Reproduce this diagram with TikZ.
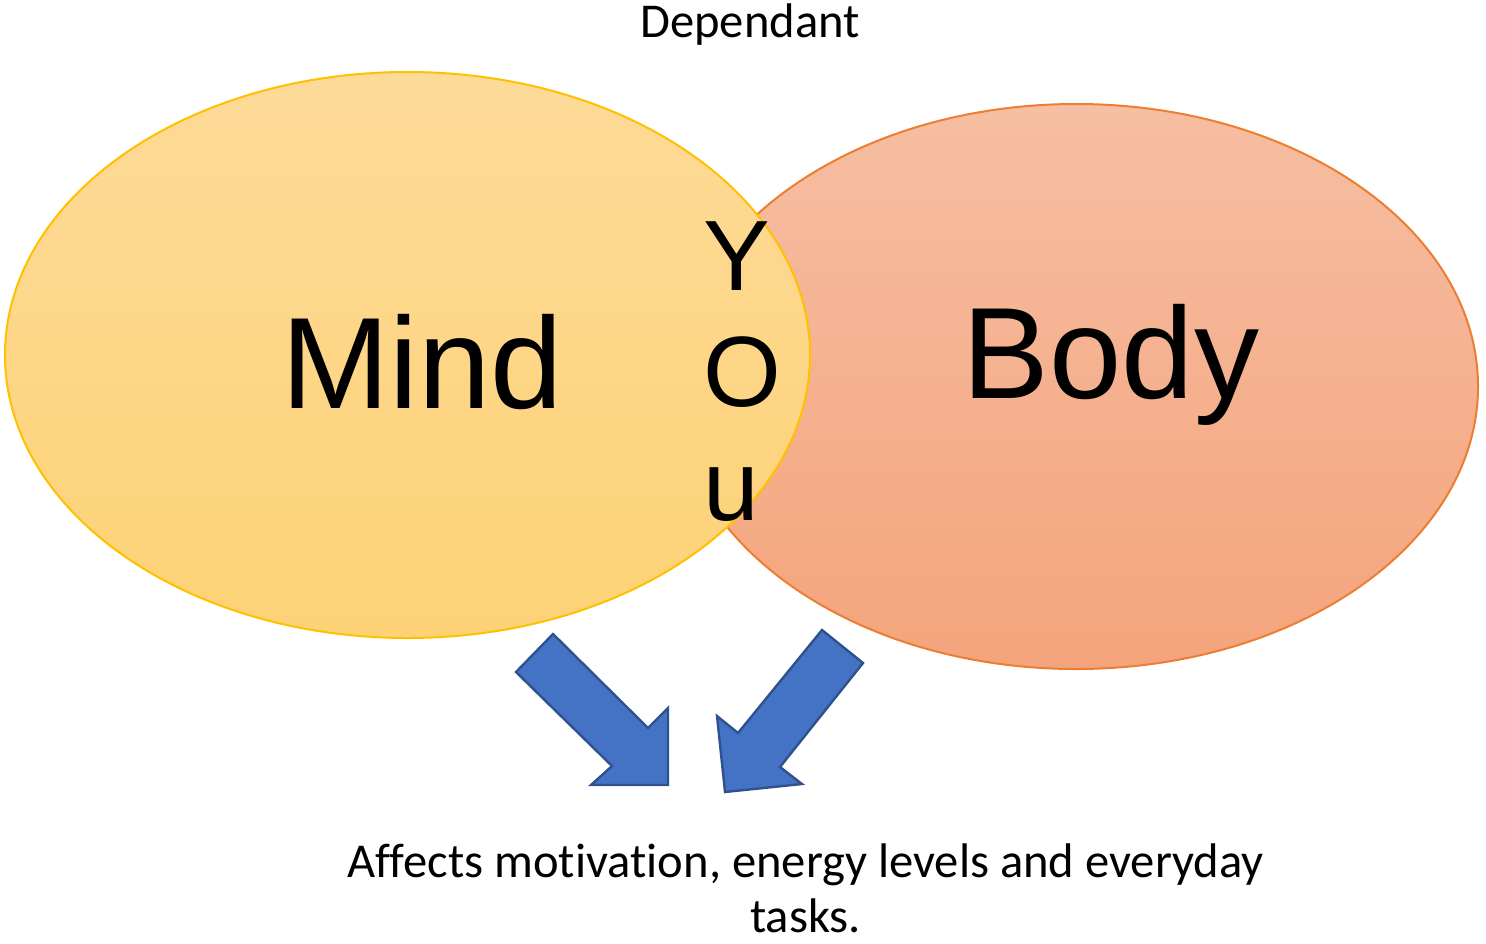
\documentclass[tikz,border=0pt]{standalone}
\usepackage{fontspec}
\setmainfont[Ligatures=NoCommon]{Carlito}
\newfontfamily\arialfont{Liberation Sans}
\usetikzlibrary{shapes.geometric}
\definecolor{mindtop}{RGB}{253,218,152}
\definecolor{mindbot}{RGB}{253,210,118}
\definecolor{mindline}{RGB}{255,192,0}
\definecolor{bodytop}{RGB}{246,190,162}
\definecolor{bodybot}{RGB}{244,164,124}
\definecolor{bodyline}{RGB}{237,125,49}
\definecolor{arrowfill}{RGB}{68,114,196}
\definecolor{arrowline}{RGB}{47,82,143}
\tikzset{
  circlebox/.style={ellipse, inner sep=0pt, line width=1pt},
  bigword/.style={font=\arialfont\fontsize{65}{75}\selectfont, inner sep=0pt, anchor=base},
  youletter/.style={font=\arialfont\fontsize{50}{57.5}\selectfont, inner sep=0pt, anchor=base west},
  caption/.style={font=\fontsize{24.3}{29}\selectfont, inner sep=0pt, anchor=base},
  bigarrow/.style={fill=arrowfill, draw=arrowline, line width=1.2pt, line join=miter}
}
\begin{document}
\begin{tikzpicture}[x=0.5pt, y=-0.5pt]
\useasboundingbox (0,0) rectangle (1486,943);
\node[circlebox, draw=bodyline, top color=bodytop, bottom color=bodybot,
      minimum width=402pt, minimum height=282.5pt] (body) at (1076,386.5) {};
\node[circlebox, draw=mindline, top color=mindtop, bottom color=mindbot,
      minimum width=402.5pt, minimum height=283pt] (mind) at (407.5,355) {};
\node[bigword] (mindtext) at (422,408) {Mind};
\node[bigword] (bodytext) at (1111,398) {Body};
\node[youletter] (y) at (703,290) {Y};
\node[youletter] (o) at (703,406) {O};
\node[youletter] (u) at (703,520) {u};
\node[caption] (dep) at (750,37) {Dependant};
\node[caption] (aff1) at (805.5,877) {Affects motivation, energy levels and everyday};
\node[caption] (aff2) at (805.5,932) {tasks.};
\draw[bigarrow] (553,634) -- (648,728) -- (668,708) -- (668,785) -- (591,785) -- (612,766) -- (516,672) -- cycle;
\draw[bigarrow] (822,630) -- (863,663) -- (780,767) -- (802,784) -- (725,792) -- (717,716) -- (738,733) -- cycle;
\end{tikzpicture}
\end{document}
